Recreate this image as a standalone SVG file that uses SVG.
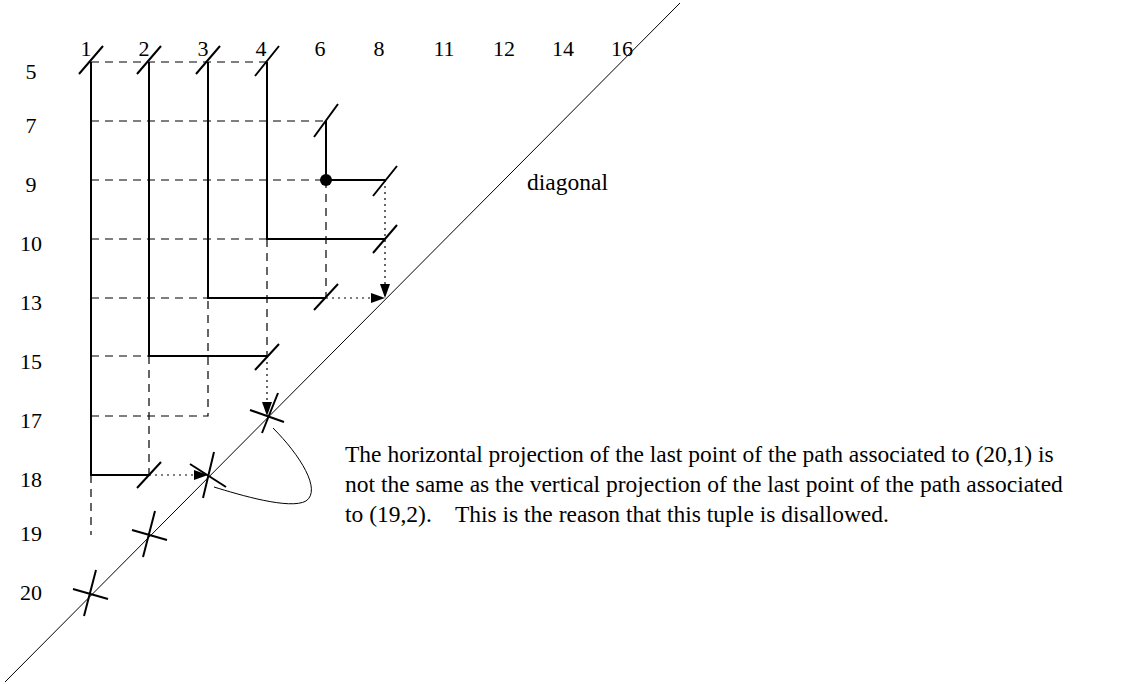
<svg xmlns="http://www.w3.org/2000/svg" width="1134" height="684" viewBox="0 0 1134 684">
<style>
text{font-family:"Liberation Serif",serif;font-size:22px;fill:#000}
.c{text-anchor:middle}
.big{font-size:23.5px}
.p{stroke:#000;stroke-width:2;fill:none}
.d{stroke:#000;stroke-width:1.2;stroke-dasharray:8,6;fill:none}
.o{stroke:#000;stroke-width:1.2;stroke-dasharray:2,4;fill:none}
.t{stroke:#000;stroke-width:2}
.thin{stroke:#000;stroke-width:1;fill:none}
</style>
<defs>
<marker id="ah" markerWidth="14" markerHeight="10" refX="14" refY="5" orient="auto" markerUnits="userSpaceOnUse"><path d="M0,0 L14,5 L0,10 Z" fill="#000"/></marker>
</defs>
<rect width="1134" height="684" fill="#fff"/>
<g id="labels">
<text class="c" x="86" y="56">1</text><text class="c" x="144" y="56">2</text><text class="c" x="203" y="56">3</text><text class="c" x="261" y="56">4</text><text class="c" x="320" y="56">6</text><text class="c" x="379" y="56">8</text><text class="c" x="444" y="56">11</text><text class="c" x="504" y="56">12</text><text class="c" x="563" y="56">14</text><text class="c" x="622" y="56">16</text>
<text class="c" x="31" y="79">5</text><text class="c" x="31" y="133">7</text><text class="c" x="31" y="192">9</text><text class="c" x="31" y="251">10</text><text class="c" x="31" y="310">13</text><text class="c" x="31" y="369">15</text><text class="c" x="31" y="428">17</text><text class="c" x="31" y="487">18</text><text class="c" x="31" y="541">19</text><text class="c" x="31" y="600">20</text>
<text class="big" x="527" y="190">diagonal</text>
<text class="big" x="345" y="462">The horizontal projection of the last point of the path associated to (20,1) is</text>
<text class="big" x="345" y="492">not the same as the vertical projection of the last point of the path associated</text>
<text class="big" x="345" y="522" xml:space="preserve">to (19,2).    This is the reason that this tuple is disallowed.</text>
</g>
<g id="diagonal"><line class="thin" x1="5" y1="682" x2="680" y2="3"/></g>
<g id="connectors">
<path class="d" d="M91,62H267M91,121H326M91,180H326M91,239H267M91,298H208M91,356H149M91,416H208V298M149,356V475M267,239V356M326,180V298M91,475V535"/>
<path class="p" d="M91,62V475H149M149,62V356H267M208,62V298H326M267,62V239H385M326,121V180H385"/>
<circle cx="326" cy="180" r="6" fill="#000"/>
<path class="o" d="M149,475H208" marker-end="url(#ah)"/>
<path class="o" d="M267,356V416" marker-end="url(#ah)"/>
<path class="o" d="M326,298H385" marker-end="url(#ah)"/>
<path class="o" d="M385,180V298" marker-end="url(#ah)"/>
<path class="thin" d="M273,428 C300,455 322,490 306,501 C290,510 240,495 214,487"/>
</g>
<g id="ticks">
<path class="t" d="M79,74L103,46M137,74L161,46M196,74L220,46M255,76L279,46M314,137L338,104M373,196L397,166M373,253L397,225M314,310L338,284M137,488L161,462M255,370L279,344"/>
<path class="t" d="M250,410L284,422M278,393L262,433M190,464L226,487M214,452L203,498M132,530L167,540M155,511L143,557M73,589L108,599M96,570L84,616"/>
</g>
</svg>
